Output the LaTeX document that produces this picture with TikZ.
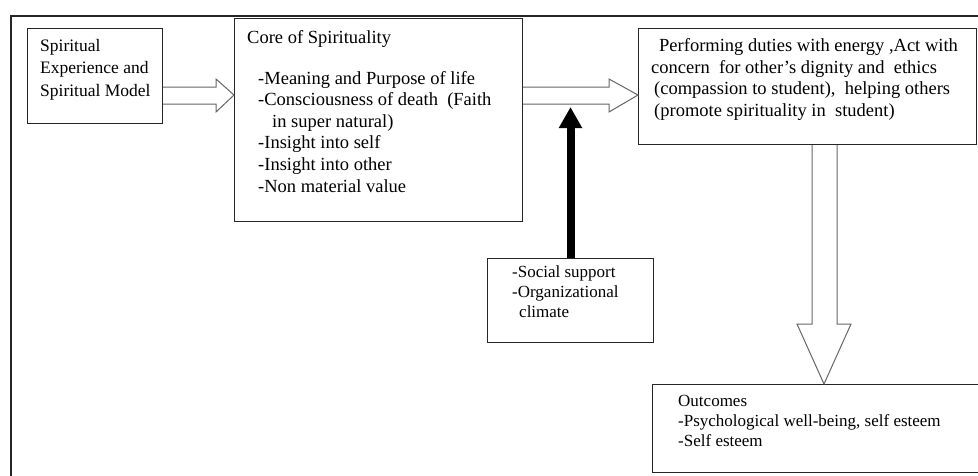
\documentclass[tikz,border=0pt]{standalone}
\usepackage{fontspec}
\setmainfont{Liberation Serif}
\usetikzlibrary{arrows.meta}
\begin{document}
\begin{tikzpicture}[x=1pt,y=-1pt,
  box/.style={draw=black!85, line width=1pt, inner sep=0pt, anchor=north west},
  txt/.style={inner sep=0pt, anchor=base west, align=left, text=black},
  hollow/.style={draw=black!60, line width=1pt, fill=white, line join=miter},
  big/.style={font=\fontsize{18.5}{21.6}\selectfont},
  small/.style={font=\fontsize{17}{19.7}\selectfont}]
\useasboundingbox (0,0) rectangle (978,475);
\draw[line width=1.6pt, black!85] (11,520) -- (11,16) -- (1020,16);
% boxes
\node[box, minimum width=135pt, minimum height=95pt] (b1) at (27,28) {};
\node[box, minimum width=288pt, minimum height=203pt] (b2) at (234,18) {};
\node[box, minimum width=338pt, minimum height=116pt] (b3) at (638,28) {};
\node[box, minimum width=166pt, minimum height=84pt] (b4) at (487,258) {};
\node[box, minimum width=348pt, minimum height=88pt] (b5) at (652,384) {};
% texts (anchored at the baseline of the last line)
\node[txt, font=\fontsize{17.5}{22.2}\selectfont] (t1) at (40,96) {Spiritual\\Experience and\\Spiritual Model};
\node[txt, big] (t2) at (247,43) {Core of Spirituality};
\node[txt, big] (t2b) at (258,192) {-Meaning and Purpose of life\\-Consciousness of death\ \ (Faith\\\hspace*{14pt}in super natural)\\-Insight into self\\-Insight into other\\-Non material value};
\node[txt, big] (t3) at (651,116.5) {\hspace*{8pt}Performing duties with energy ,Act with\\concern\ \ for other’s dignity and\ \ ethics\\\hspace*{3pt}(compassion to student),\ \ helping others\\\hspace*{3pt}(promote spirituality in\ \ student)};
\node[txt, small] (t4) at (512,317) {-Social support\\-Organizational\\\hspace*{7pt}climate};
\node[txt, small] (t5) at (678,446) {Outcomes\\-Psychological well-being, self esteem\\-Self esteem};
% hollow arrows
\draw[hollow] (b1.east |- 0,87) -- (216,87) -- (216,79) -- (b2.west |- 0,95) -- (216,112) -- (216,104) -- (b1.east |- 0,104);
\draw[hollow] (b2.east |- 0,87) -- (609,87) -- (609,79) -- (b3.west |- 0,95) -- (609,112) -- (609,104) -- (b2.east |- 0,104);
\draw[hollow] (812,0 |- b3.south) -- (812,324) -- (797,324) -- (824,0 |- b5.north) -- (851,324) -- (837,324) -- (837,0 |- b3.south);
% black arrow
\coordinate (tipB) at (b4.north |- 0,107);
\draw[line width=8pt, -{Triangle[width=22pt,length=21pt]}] (b4.north) -- (tipB);
\end{tikzpicture}
\end{document}
